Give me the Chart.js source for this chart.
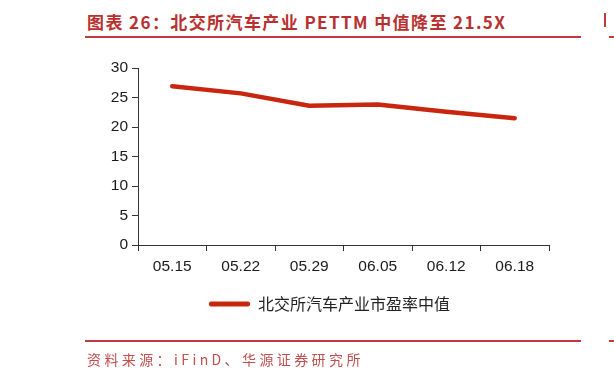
<!DOCTYPE html>
<html lang="zh">
<head>
    <meta charset="UTF-8">
    <title>北交所汽车产业 PETTM</title>
    <script src="https://cdn.jsdelivr.net/npm/chart.js"></script>
    <style>
        body { margin: 0; width: 614px; height: 380px; overflow: hidden; background: #fff; position: relative; }
        .titulo { position: absolute; left: 87px; top: 9px; font-family: "Noto Sans CJK SC"; font-weight: bold; font-size: 17px; color: #b8312f; letter-spacing: 1.4px; white-space: nowrap; }
        .linha { position: absolute; height: 2px; background: #c4393b; }
        .fonte { position: absolute; left: 87px; top: 349px; font-family: "Noto Sans CJK SC"; font-size: 14px; color: #c0504d; letter-spacing: 3.4px; white-space: nowrap; }
        .grafico { position: absolute; left: 0; top: 0; width: 614px; height: 380px; }
        .pedaco { position: absolute; left: 604px; top: 13px; width: 2px; height: 14px; background: #c4393b; }
    </style>
</head>
<body>
    <div class="titulo">图表 26：北交所汽车产业 PETTM 中值降至 21.5X</div>
    <div class="linha" style="left:85px; top:36px; width:496px;"></div>
    <div class="linha" style="left:609px; top:36px; width:5px;"></div>
    <div class="pedaco"></div>

    <div class="grafico">
        <canvas id="myChart" width="614" height="380"></canvas>
    </div>

    <div class="linha" style="left:85px; top:340px; width:496px;"></div>
    <div class="linha" style="left:609px; top:340px; width:5px;"></div>
    <div class="fonte">资料来源：iFinD、华源证券研究所</div>

<script>
    // dados
    var datas = ['05.15', '05.22', '05.29', '06.05', '06.12', '06.18'];
    var peMediana = [26.9, 25.7, 23.6, 23.8, 22.6, 21.5];
    var ticksY = [0, 5, 10, 15, 20, 25, 30];
    var nomeSerie = '北交所汽车产业市盈率中值';

    var vermelho = '#c8260f';
    var corEixo = '#333333';

    var ctx = document.getElementById('myChart');

    var jsonGrafico = {
        type: 'line',
        data: {
            labels: datas,
            datasets: [{
                label: nomeSerie,
                data: peMediana,
                borderColor: vermelho,
                backgroundColor: vermelho,
                borderWidth: 4.5,
                borderCapStyle: 'round',
                borderJoinStyle: 'round',
                pointRadius: 0,
                tension: 0
            }]
        },
        options: {
            responsive: false,
            animation: false,
            layout: {
                padding: { top: 68, left: 110, right: 65, bottom: 58 }
            },
            plugins: {
                tooltip: { enabled: false },
                legend: {
                    position: 'bottom',
                    labels: {
                        boxWidth: 41,
                        boxHeight: 5,
                        color: '#222',
                        font: { family: '"Noto Sans CJK SC"', size: 16 },
                        generateLabels: function (chart) {
                            var itens = Chart.defaults.plugins.legend.labels.generateLabels(chart);
                            itens.forEach(function (it) {
                                it.lineWidth = 0;
                                it.borderRadius = 2;
                            });
                            return itens;
                        }
                    }
                }
            },
            scales: {
                x: {
                    offset: true,
                    afterFit: function (scale) { scale.height = 41; },
                    border: { display: true, color: corEixo, width: 1 },
                    grid: { offset: true, drawOnChartArea: false, drawTicks: true, tickLength: 6, color: corEixo },
                    ticks: { color: '#1a1a1a', padding: 6, font: { family: '"Liberation Sans"', size: 15.5 } }
                },
                y: {
                    min: 0,
                    max: 30,
                    afterFit: function (scale) { scale.width = 28; },
                    afterBuildTicks: function (scale) {
                        scale.ticks = ticksY.map(function (v) { return { value: v }; });
                    },
                    border: { display: true, color: corEixo, width: 1 },
                    grid: { drawOnChartArea: false, drawTicks: true, tickLength: 6, color: corEixo },
                    ticks: { color: '#1a1a1a', padding: 4, font: { family: '"Liberation Sans"', size: 15.5 } }
                }
            }
        }
    };

    new Chart(ctx, jsonGrafico);
</script>
</body>
</html>
